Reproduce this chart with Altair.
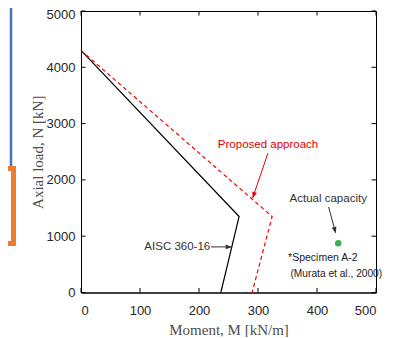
import math
import altair as alt
import pandas as pd

# ---- data ----
aisc_M = [0, 268, 237]
aisc_N = [4300, 1350, 0]
prop_M = [0, 324, 290]
prop_N = [4300, 1350, 0]
test_M = [436]
test_N = [875]

x_ticks = [0, 100, 200, 300, 400, 500]
y_ticks = [0, 1000, 2000, 3000, 4000, 5000]

ann_text = ["Proposed approach", "Actual capacity", "AISC 360-16", "*Specimen A-2", "(Murata et al., 2000)"]
ann_M = [317, 419, 219, 351, 355]
ann_N = [2620, 1660, 810, 615, 331]
ann_align = ["center", "center", "right", "left", "left"]
ann_color = ["#e00000", "#333333", "#333333", "#222222", "#222222"]
ann_size = [11.5, 11.5, 11.5, 10.5, 10.2]

arr_M1 = [316.8, 419.7, 220]
arr_N1 = [2476, 1519, 810]
arr_M2 = [291, 431.6, 255.7]
arr_N2 = [1679, 1058, 810]
arr_color = ["#e00000", "#333333", "#333333"]

W, H = 295, 281.5
XMAX, YMAX = 500, 5000

xs = alt.Scale(domain=[0, XMAX], nice=False, zero=False)
ys = alt.Scale(domain=[0, YMAX], nice=False, zero=False)

lines = pd.DataFrame({
    "M": aisc_M + prop_M,
    "N": aisc_N + prop_N,
    "s": ["AISC"] * 3 + ["Proposed"] * 3,
    "i": list(range(3)) + list(range(3)),
})

x_axis = alt.Axis(values=x_ticks, format="d", tickSize=0, labelPadding=12, labelFont="Liberation Sans",
                  labelFontSize=13, labelColor="#262626", title="Moment, M [kN/m]",
                  titleFont="Liberation Serif", titleFontSize=15, titleFontWeight="normal",
                  titleColor="#4d4d4d", titlePadding=5, domainColor="black", grid=False)
y_axis = alt.Axis(values=y_ticks, format="d", tickSize=0, labelPadding=6, labelFont="Liberation Sans",
                  labelFontSize=13, labelColor="#262626", title="Axial load, N [kN]",
                  labelOffset=alt.condition("datum.value == 5000", alt.value(3.5), alt.value(0)),
                  titleFont="Liberation Serif", titleFontSize=15, titleFontWeight="normal",
                  titleColor="#4d4d4d", titlePadding=1, domainColor="black", grid=False)

black = alt.Chart(lines[lines.s == "AISC"]).mark_line(color="black", strokeWidth=1.2).encode(
    x=alt.X("M:Q", scale=xs, axis=x_axis),
    y=alt.Y("N:Q", scale=ys, axis=y_axis),
    order="i:O",
)
red = alt.Chart(lines[lines.s == "Proposed"]).mark_line(color="#ff0000", strokeWidth=1.2,
                                                      strokeDash=[4, 3]).encode(
    x=alt.X("M:Q", scale=xs), y=alt.Y("N:Q", scale=ys), order="i:O")

pt = alt.Chart(pd.DataFrame({"M": test_M, "N": test_N})).mark_point(
    filled=True, shape="circle", size=42, color="#3fae49", opacity=1).encode(
    x=alt.X("M:Q", scale=xs), y=alt.Y("N:Q", scale=ys))

# inward ticks
xt = pd.DataFrame({"M": x_ticks})
yt = pd.DataFrame({"N": y_ticks})
tick_style = dict(color="black", strokeWidth=1)
t_bottom = alt.Chart(xt).mark_rule(**tick_style).encode(
    x=alt.X("M:Q", scale=xs), y=alt.value(H), y2=alt.value(H - 4.5))
t_top = alt.Chart(xt).mark_rule(**tick_style).encode(
    x=alt.X("M:Q", scale=xs), y=alt.value(0), y2=alt.value(4.5))
t_left = alt.Chart(yt).mark_rule(**tick_style).encode(
    y=alt.Y("N:Q", scale=ys), x=alt.value(0), x2=alt.value(4.5))
t_right = alt.Chart(yt).mark_rule(**tick_style).encode(
    y=alt.Y("N:Q", scale=ys), x=alt.value(W), x2=alt.value(W - 4.5))

# annotations
ann = pd.DataFrame({"t": ann_text, "M": ann_M, "N": ann_N})
texts = []
for i in range(len(ann_text)):
    texts.append(alt.Chart(ann.iloc[[i]]).mark_text(
        font="Liberation Sans", fontSize=ann_size[i], color=ann_color[i],
        align=ann_align[i], baseline="middle").encode(
        x=alt.X("M:Q", scale=xs), y=alt.Y("N:Q", scale=ys), text="t:N"))

angles = []
for m1, n1, m2, n2 in zip(arr_M1, arr_N1, arr_M2, arr_N2):
    dx = (m2 - m1) * W / XMAX
    dy = -(n2 - n1) * H / YMAX
    a = math.degrees(math.atan2(dx, -dy)) % 360
    angles.append(a)
arr = pd.DataFrame({"M1": arr_M1, "N1": arr_N1, "M2": arr_M2, "N2": arr_N2,
                    "c": arr_color, "a": angles})
shafts = alt.Chart(arr).mark_rule(strokeWidth=1).encode(
    x=alt.X("M1:Q", scale=xs), y=alt.Y("N1:Q", scale=ys), x2="M2:Q", y2="N2:Q",
    color=alt.Color("c:N", scale=None))
heads = alt.Chart(arr).mark_point(filled=True, size=150, opacity=1,
                                  shape="M0,0L-0.4,1L0.4,1Z").encode(
    x=alt.X("M2:Q", scale=xs), y=alt.Y("N2:Q", scale=ys),
    color=alt.Color("c:N", scale=None), angle=alt.Angle("a:Q", scale=None))

# decorations from surrounding figure (outside plot area)
deco = pd.DataFrame({"k": [0]})
blue = alt.Chart(deco).mark_rule(color="#4472c4", strokeWidth=2.5).encode(
    x=alt.value(-70), y=alt.value(-5), y2=alt.value(156))
orange = alt.Chart(deco).mark_rect(fill=None, stroke="#ed7d31", strokeWidth=5).encode(
    x=alt.value(-100), x2=alt.value(-67.5), y=alt.value(157.5), y2=alt.value(232.5))

chart = alt.layer(
    black, red, pt, t_bottom, t_top, t_left, t_right, shafts, heads, *texts, blue, orange
).properties(
    width=W, height=H,
    autosize=alt.AutoSizeParams(type="none"),
    padding={"left": 73, "top": 3, "right": 21, "bottom": 44},
).configure_view(stroke="black", strokeWidth=1)

chart.save("out.html", embed_options={"renderer": "svg", "actions": False})
